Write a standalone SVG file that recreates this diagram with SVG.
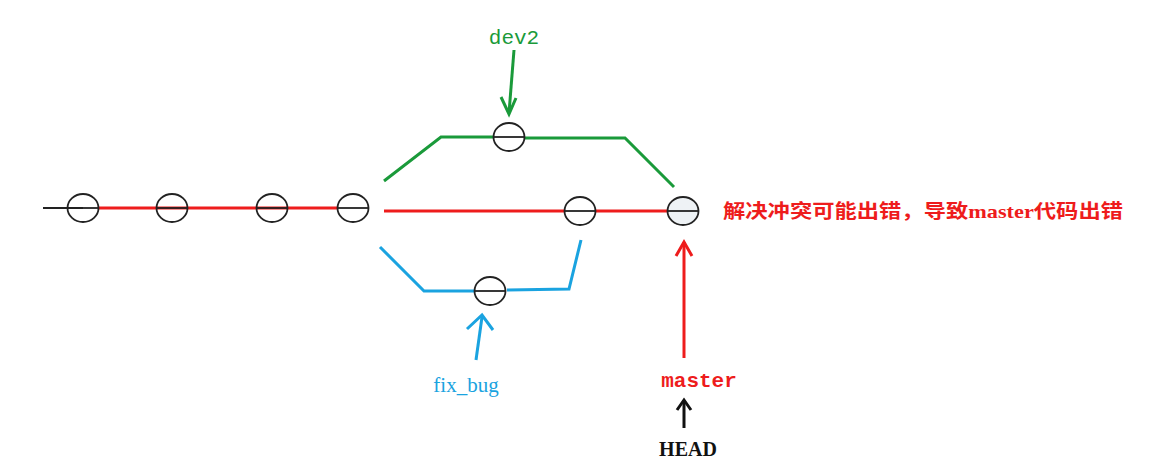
<svg xmlns="http://www.w3.org/2000/svg" width="1163" height="470" viewBox="0 0 1163 470">
<style>
.c{fill:none;stroke:#222;stroke-width:1.8}
.d{stroke:#222;stroke-width:1.8}
.r{stroke:#ee1c1c;stroke-width:3;fill:none}
.g{stroke:#1a9a3a;stroke-width:3;fill:none;stroke-linejoin:miter}
.b{stroke:#1aa3e0;stroke-width:3;fill:none}
.k{stroke:#111;stroke-width:3;fill:none}
</style>
<rect width="1163" height="470" fill="#fff"/>
<g id="connectors">
<line x1="43" y1="208" x2="83" y2="208" class="d"/>
<line x1="99" y1="208" x2="337" y2="208" class="r"/>
<line x1="384" y1="211" x2="565" y2="211" class="r"/>
<line x1="596" y1="211" x2="668" y2="211" class="r"/>
<polyline points="384,181 441,137 494,137" class="g"/>
<polyline points="524,138 625,138 674,187" class="g"/>
<polyline points="380,247 424,291 474,291" class="b"/>
<polyline points="507,290 569,289 581,240" class="b"/>
<line x1="514" y1="50" x2="509" y2="113" class="g"/>
<polyline points="501,97 509,114 516,98" class="g"/>
<line x1="476" y1="360" x2="482" y2="317" class="b"/>
<polyline points="467,329 482,315 493,330" class="b"/>
<line x1="684" y1="358" x2="684" y2="242" class="r"/>
<polyline points="676,256 684,242 692,256" class="r"/>
<line x1="684" y1="428" x2="684" y2="400" class="k"/>
<polyline points="677,410 684,400 691,410" class="k"/>
</g>
<g id="n1"><ellipse cx="83" cy="208" rx="15.5" ry="14" class="c"/><line x1="68" y1="208" x2="99" y2="208" class="d"/></g>
<g id="n2"><ellipse cx="172" cy="208" rx="15.5" ry="14" class="c"/><line x1="157" y1="208" x2="187" y2="208" class="d"/></g>
<g id="n3"><ellipse cx="272" cy="208" rx="15.5" ry="14" class="c"/><line x1="257" y1="208" x2="287" y2="208" class="d"/></g>
<g id="n4"><ellipse cx="353" cy="208" rx="15.5" ry="14" class="c"/><line x1="338" y1="208" x2="368" y2="208" class="d"/></g>
<g id="n5"><ellipse cx="580" cy="211" rx="15.5" ry="14" class="c"/><line x1="565" y1="211" x2="595" y2="211" class="d"/></g>
<g id="n6"><ellipse cx="683" cy="211" rx="15.5" ry="14" class="c" style="fill:#eef2f5"/><line x1="668" y1="211" x2="698" y2="211" class="d"/></g>
<g id="n7"><ellipse cx="509" cy="137" rx="15.5" ry="14" class="c"/><line x1="494" y1="137" x2="524" y2="137" class="d"/></g>
<g id="n8"><ellipse cx="490" cy="291" rx="15.5" ry="14" class="c"/><line x1="475" y1="291" x2="505" y2="291" class="d"/></g>
<g id="labels">
<text x="514" y="44" text-anchor="middle" font-family="Liberation Mono, monospace" font-size="21" fill="#1a9a3a">dev2</text>
<text x="466" y="392" text-anchor="middle" font-family="Liberation Serif, serif" font-size="21" fill="#1aa3e0">fix_bug</text>
<text x="699" y="387" text-anchor="middle" font-family="Liberation Mono, monospace" font-size="21" font-weight="bold" fill="#ee1c1c">master</text>
<text x="688" y="456" text-anchor="middle" font-family="Liberation Serif, serif" font-size="20" font-weight="bold" fill="#111">HEAD</text>
<text x="723" y="218" textLength="400" lengthAdjust="spacingAndGlyphs" font-family="Liberation Serif, Noto Sans CJK SC, serif" font-size="19" font-weight="bold" fill="#ee1c1c">解决冲突可能出错，导致master代码出错</text>
</g>
</svg>
